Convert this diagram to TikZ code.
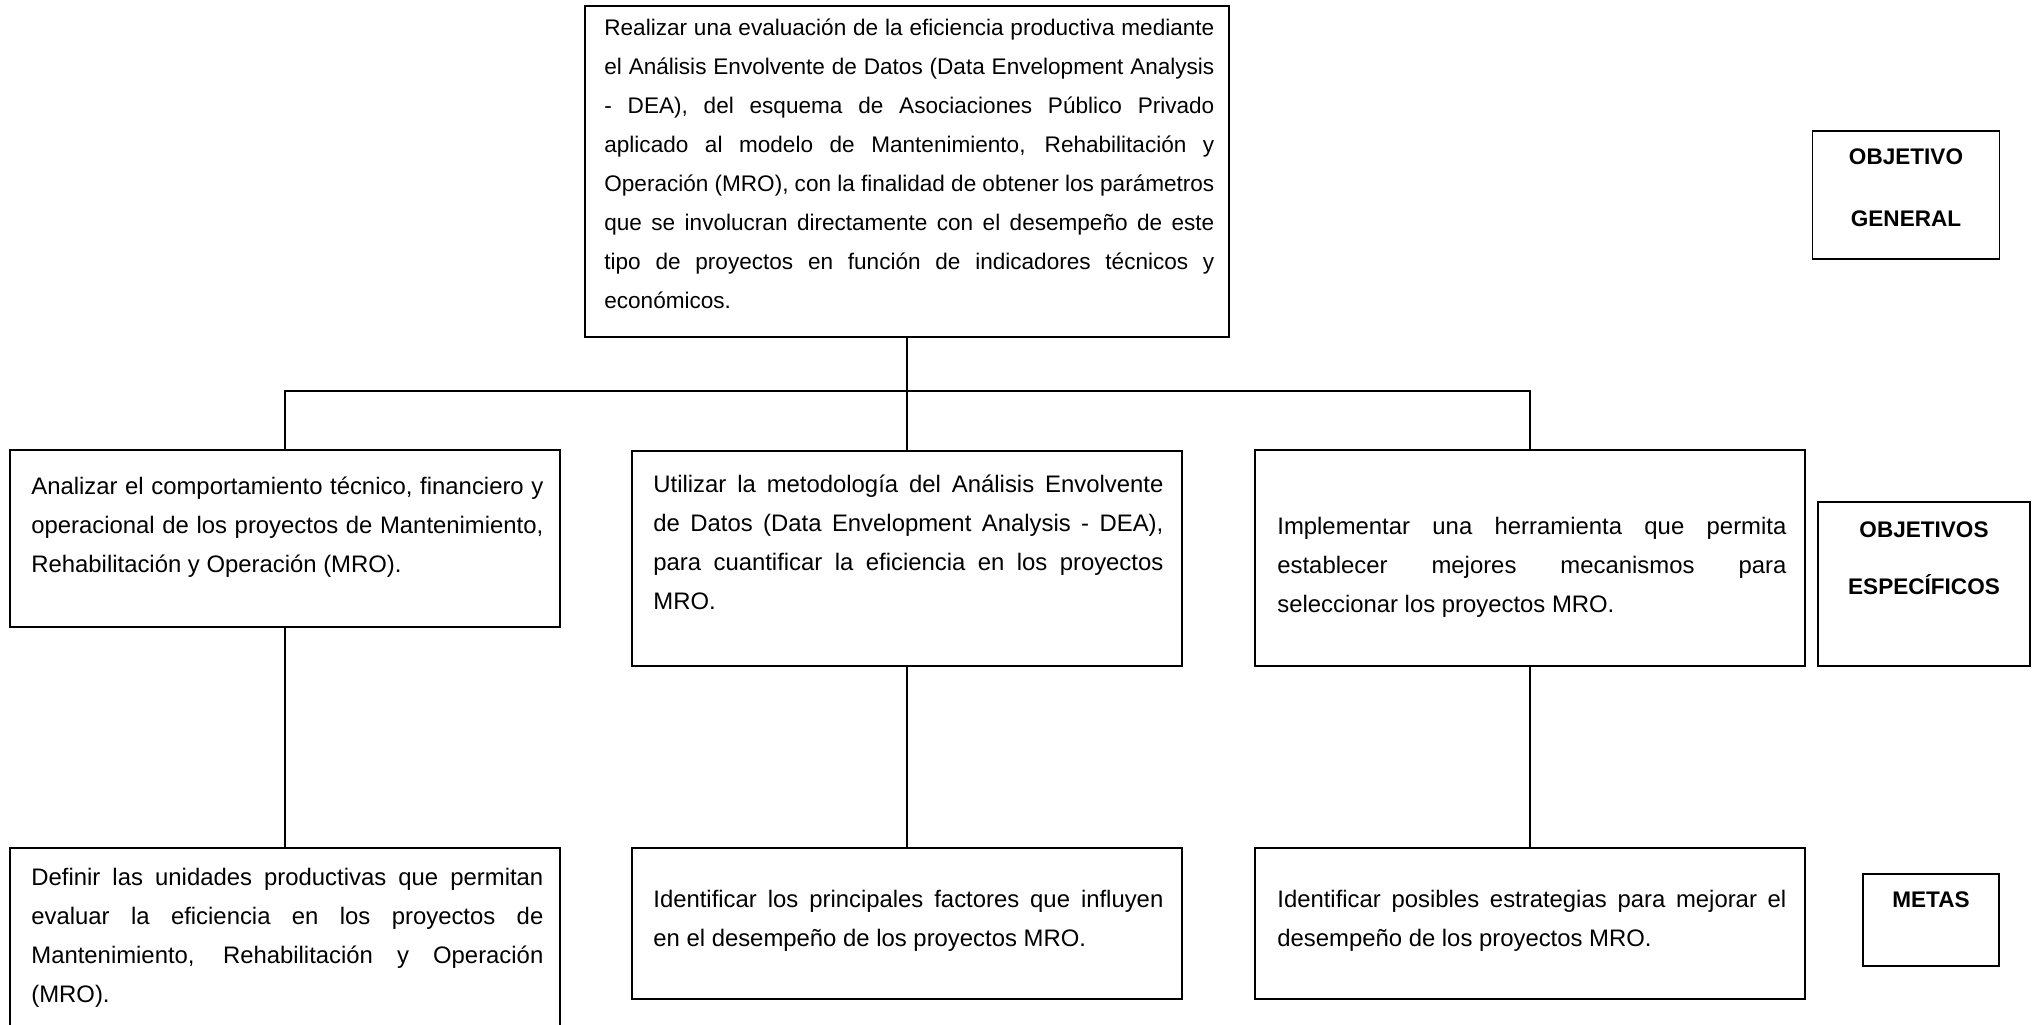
\documentclass[tikz,border=0pt]{standalone}
\usepackage{fontspec}
\setmainfont{Liberation Sans}
\newcommand\parafix{\hyphenpenalty=10000\exhyphenpenalty=10000\hbadness=10000\relax}
\newcommand\bodyfont{\fontsize{12.7}{20.74}\selectfont\parafix}
\newcommand\leadfont{\fontsize{12}{20.74}\selectfont\parafix}
\newcommand\tagfont{\fontsize{12}{14}\selectfont\bfseries}
\def\pxu{0.5319pt}
\begin{document}
\begin{tikzpicture}[x=0.5319pt,y=-0.5319pt,
  box/.style={draw=black, line width=1.1pt, rectangle, inner sep=0pt},
  thinbox/.style={box, line width=0.85pt},
  link/.style={draw=black, line width=0.6pt},
  body/.style={anchor=north west, inner sep=0pt, align=justify, font=\bodyfont},
  tag/.style={inner sep=0pt, font=\tagfont, text height=8.6pt, text depth=0pt}]

% page
\fill[white] (0,0) rectangle (2032,1024);
\useasboundingbox (0,0) rectangle (2032,1024);

% general objective
\node[box, minimum width=644*\pxu, minimum height=331*\pxu] (gen) at (907,171.5) {};
\node[body, font=\leadfont, text width=610*\pxu] (gentxt) at (604,8) {\strut Realizar una evaluación de la eficiencia productiva mediante\linebreak
el Análisis Envolvente de Datos (Data Envelopment Analysis\linebreak
- DEA), del esquema de Asociaciones Público Privado\linebreak
aplicado al modelo de Mantenimiento, Rehabilitación y\linebreak
Operación (MRO), con la finalidad de obtener los parámetros\linebreak
que se involucran directamente con el desempeño de este\linebreak
tipo de proyectos en función de indicadores técnicos y\linebreak
económicos.};

% specific objectives
\node[box, minimum width=550*\pxu, minimum height=177*\pxu] (eA) at (285,538.5) {};
\node[body, text width=512*\pxu] (eAtxt) at (31,467) {\strut Analizar el comportamiento técnico, financiero y\linebreak
operacional de los proyectos de Mantenimiento,\linebreak
Rehabilitación y Operación (MRO).};

\node[box, minimum width=550*\pxu, minimum height=215*\pxu] (eB) at (907,558.5) {};
\node[body, text width=510*\pxu] (eBtxt) at (653,465) {\strut Utilizar la metodología del Análisis Envolvente\linebreak
de Datos (Data Envelopment Analysis - DEA),\linebreak
para cuantificar la eficiencia en los proyectos\linebreak
MRO.};

\node[box, minimum width=550*\pxu, minimum height=216*\pxu] (eC) at (1530,558) {};
\node[body, text width=509*\pxu] (eCtxt) at (1277,507) {\strut Implementar una herramienta que permita\linebreak
establecer mejores mecanismos para\linebreak
seleccionar los proyectos MRO.};

% goals
\node[box, minimum width=550*\pxu, minimum height=192*\pxu] (mA) at (285,944) {};
\node[body, text width=512*\pxu] (mAtxt) at (31,858) {\strut Definir las unidades productivas que permitan\linebreak
evaluar la eficiencia en los proyectos de\linebreak
Mantenimiento, Rehabilitación y Operación\linebreak
(MRO).};

\node[thinbox, minimum width=550*\pxu, minimum height=151*\pxu] (mB) at (907,923.5) {};
\node[body, text width=510*\pxu] (mBtxt) at (653,880) {\strut Identificar los principales factores que influyen\linebreak
en el desempeño de los proyectos MRO.};

\node[box, minimum width=550*\pxu, minimum height=151*\pxu] (mC) at (1530,923.5) {};
\node[body, text width=509*\pxu] (mCtxt) at (1277,880) {\strut Identificar posibles estrategias para mejorar el\linebreak
desempeño de los proyectos MRO.};

% level labels
\node[thinbox, minimum width=187*\pxu, minimum height=128*\pxu] (lg) at (1906,195) {};
\node[tag] (lg1) at (1906,156) {OBJETIVO};
\node[tag] (lg2) at (1906,218) {GENERAL};

\node[thinbox, minimum width=212*\pxu, minimum height=164*\pxu] (le) at (1924,584) {};
\node[tag] (le1) at (1924,529) {OBJETIVOS};
\node[tag] (le2) at (1924,586) {ESPECÍFICOS};

\node[thinbox, minimum width=136*\pxu, minimum height=92*\pxu] (lm) at (1931,920) {};
\node[tag] (lm1) at (1931,899) {METAS};

% connectors
\coordinate (bus) at (907,391);
\draw[link] (gen.south) -- (eB.north);
\draw[link] (eA.north) -- (eA.north |- bus) -- (eC.north |- bus) -- (eC.north);
\draw[link] (eA.south) -- (mA.north);
\draw[link] (eB.south) -- (mB.north);
\draw[link] (eC.south) -- (mC.north);
\end{tikzpicture}
\end{document}
